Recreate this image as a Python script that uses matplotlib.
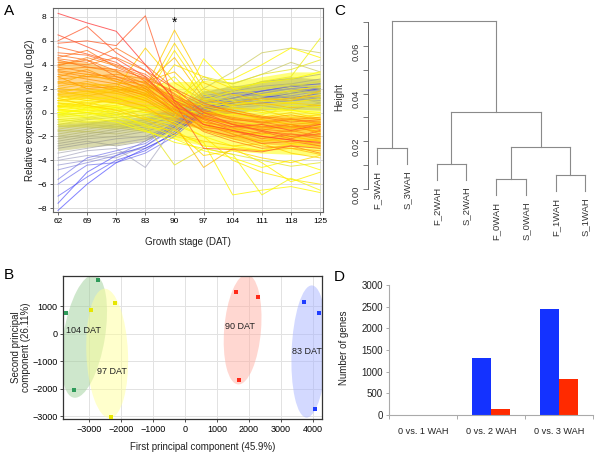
import numpy as np
import matplotlib.pyplot as plt
from matplotlib.colors import LinearSegmentedColormap, Normalize
from matplotlib.patches import Ellipse

plt.rcParams['font.family'] = ['Liberation Sans', 'DejaVu Sans']

# ---- A: expression profiles (Log2) ----
dat = [62, 69, 76, 83, 90, 97, 104, 111, 118, 125]

expr_red = [
    [8.3, 7.5, 6.8, 4.0, 1.0, -1.0, -1.5, -2.0, -2.3, -2.5],
    [5.8, 6.0, 5.6, 8.1, 0.8, -3.0, -3.1, -3.3, -2.8, -3.0],
    [6.0, 7.2, 5.0, 3.5, 2.0, 0.0, -1.0, -1.5, -2.0, -1.8],
    [6.5, 5.5, 4.5, 3.0, 0.5, -0.5, -1.2, -1.0, -1.5, -1.0],
]
expr_orange = [
    [5.0, 4.8, 4.0, 3.2, 1.5, -0.3, -0.8, -1.2, -1.0, -1.4],
    [4.6, 5.2, 3.8, 2.8, 0.8, -0.6, -1.5, -2.2, -1.8, -2.0],
    [4.2, 4.0, 4.6, 3.5, 1.2, 0.2, -0.5, -0.9, -0.6, -0.8],
    [4.8, 4.4, 3.0, 2.2, 0.3, -1.0, -1.8, -2.6, -2.4, -2.8],
    [5.5, 4.9, 4.2, 2.6, 0.6, -1.4, -2.0, -1.6, -2.2, -1.5],
    [4.0, 4.4, 3.5, 2.0, 0.0, -1.6, -2.4, -3.0, -2.8, -3.4],
    [3.5, 3.2, 3.0, 2.5, 1.0, 0.0, -0.4, -0.8, -0.5, -1.0],
    [3.0, 3.6, 2.6, 2.0, 0.6, -0.4, -1.0, -1.3, -1.2, -1.6],
    [3.2, 2.8, 2.4, 1.6, 0.2, -0.8, -1.3, -1.8, -1.5, -2.0],
    [2.8, 3.0, 2.8, 2.2, 1.4, 0.4, 0.0, -0.5, -0.2, -0.6],
    [2.5, 2.2, 2.0, 1.5, 0.4, -0.6, -0.9, -1.2, -1.4, -1.2],
    [3.8, 3.4, 2.8, 1.8, 0.0, -1.2, -1.6, -2.0, -2.3, -2.6],
    [2.2, 2.6, 2.0, 1.2, -0.2, -1.0, -1.5, -1.0, -1.3, -0.9],
    [3.4, 3.0, 3.2, 2.8, 1.8, 0.6, 0.2, -0.3, -0.6, -0.4],
    [2.6, 2.4, 1.8, 1.0, -0.4, -1.5, -2.2, -2.8, -3.0, -3.2],
    [3.0, 2.0, 2.2, 1.4, 0.0, -0.4, -1.0, -1.5, -1.0, -1.8],
    [2.4, 3.2, 2.6, 1.8, 0.8, 0.1, -0.6, -0.6, -1.0, -0.8],
    [3.6, 3.8, 3.4, 2.4, 0.8, -0.8, -1.2, -1.4, -1.6, -1.2],
    [2.0, 1.8, 1.2, 0.5, -1.0, -4.6, -3.0, -3.2, -3.0, -3.5],
    [4.4, 3.8, 3.6, 2.9, 1.0, -0.2, -1.0, -1.6, -1.8, -2.2],
    [3.9, 4.6, 3.9, 3.0, 1.6, 0.0, -0.6, -0.8, -1.2, -1.0],
    [2.0, 2.4, 2.2, 1.6, 0.4, -0.8, -1.8, -2.4, -2.0, -2.4],
    [1.8, 2.0, 1.6, 1.0, 0.0, -1.2, -1.4, -2.0, -2.6, -2.2],
    [4.5, 4.2, 5.4, 4.0, 2.0, 0.8, 0.0, -0.4, -0.8, -0.6],
]
expr_yellow = [
    [1.5, 1.8, 1.6, 2.0, 6.9, 2.5, 1.5, 1.0, 1.2, 1.4],
    [1.0, 1.2, 0.8, 1.5, 5.8, 2.0, 1.0, 0.6, 0.8, 0.6],
    [0.5, 0.8, 1.0, 1.2, 5.2, 1.6, 0.4, 0.0, 0.2, -0.2],
    [1.8, 1.4, 1.8, 2.4, 4.6, 1.2, 0.6, 0.8, 0.4, 0.6],
    [0.8, 0.4, 0.6, 1.0, 4.0, 3.0, 2.0, 1.5, 1.8, 2.2],
    [1.2, 1.6, 2.0, 5.4, 2.5, 1.0, 0.2, -0.4, 0.0, -0.5],
    [0.6, 0.2, 0.0, -0.5, -1.0, -2.0, -4.0, -5.0, -5.6, -6.0],
    [0.2, 0.5, -0.2, -1.0, -2.0, -2.5, -6.9, -6.5, -6.2, -6.7],
    [-0.2, 0.0, -0.5, -1.5, -2.5, -3.0, -3.5, -6.9, -5.5, -6.5],
    [0.4, 0.6, 0.0, -1.2, -1.5, -2.8, -3.0, -4.2, -5.8, -5.0],
    [0.0, -0.4, -0.8, -1.6, -2.2, -3.2, -3.8, -4.6, -4.0, -4.8],
    [1.0, 0.8, 0.4, -0.4, -1.4, -3.6, -3.2, -3.8, -4.2, -3.6],
    [-0.4, -0.2, 0.2, 0.4, 0.6, 1.0, 1.8, 2.6, 3.0, 6.2],
    [0.2, 0.0, -0.2, 0.2, 0.8, 2.6, 2.8, 4.0, 5.4, 4.6],
    [-0.6, -0.4, 0.0, 0.6, 1.0, 3.0, 2.4, 3.2, 3.6, 4.4],
    [0.0, 0.2, 0.4, 0.0, -0.4, 4.5, 2.0, 2.5, 2.8, 3.4],
    [0.0, 0.3, 0.5, 0.4, 0.2, 0.0, -0.2, 0.4, 0.2, 0.0],
    [0.5, 0.6, 0.2, 0.0, 0.4, 0.8, 0.6, 1.0, 0.8, 1.2],
    [-0.3, 0.0, 0.4, 0.6, 0.0, -0.5, -0.8, -1.0, -0.6, -1.2],
    [1.0, 1.4, 1.0, 0.6, 0.2, -0.2, 0.4, 0.2, -0.4, -0.2],
    [0.8, 0.6, 1.2, 1.4, 1.0, 0.6, 0.0, -0.6, -1.0, -1.6],
    [-0.8, -0.5, -0.2, 0.2, 0.8, 1.2, 1.0, 1.4, 1.8, 1.6],
    [1.4, 1.0, 0.8, 0.2, -0.6, -1.4, -2.0, -2.4, -2.2, -2.8],
    [0.3, 0.0, -0.4, -0.2, -0.8, -2.0, -2.8, -3.2, -2.6, -3.0],
    [-0.6, -0.8, -0.6, -1.0, -4.4, -3.0, -3.5, -4.0, -4.5, -4.2],
    [1.6, 2.2, 2.4, 2.6, 3.4, 1.0, 0.8, 1.2, 1.0, 1.8],
    [-1.0, -0.6, -0.4, -0.2, 0.4, 1.6, 2.2, 2.0, 2.4, 2.0],
    [0.6, 1.0, 1.4, 0.8, 2.0, -1.0, -1.6, -1.8, -2.0, -2.4],
    [-0.2, 0.4, 0.8, 1.6, 3.0, 0.4, -0.4, -0.2, 0.6, 0.4],
    [1.2, 0.6, 0.2, -0.6, -1.8, -2.4, -2.8, -2.6, -3.4, -3.8],
]
expr_gray = [
    [-1.2, -1.0, -0.6, -0.2, 0.0, 0.8, 1.0, 1.4, 1.6, 1.8],
    [-1.8, -1.4, -1.0, -0.6, -0.2, 0.6, 0.8, 1.2, 1.0, 1.4],
    [-2.2, -1.8, -1.4, -1.0, -0.4, 1.0, 1.2, 1.6, 2.0, 1.6],
    [-2.6, -2.2, -2.0, -1.6, -0.8, 0.4, 0.6, 0.8, 1.2, 1.0],
    [-1.5, -1.6, -1.2, -1.0, -0.5, 2.8, 2.4, 3.2, 4.2, 3.4],
    [-2.8, -2.4, -2.8, -2.4, -1.2, 1.4, 1.8, 2.2, 2.4, 2.8],
    [-1.0, -0.8, -1.0, -0.8, -0.2, 1.8, 1.4, 2.0, 2.2, 2.6],
    [-2.0, -1.6, -1.8, -1.4, -0.6, 0.2, 0.4, 0.6, 0.2, 0.8],
    [-3.0, -2.6, -2.2, -2.0, -1.0, 0.8, 1.0, 1.2, 1.4, 1.2],
    [-1.4, -1.0, -1.2, -0.6, 0.2, 2.0, 3.4, 5.0, 5.4, 5.0],
    [-2.4, -2.0, -1.6, -1.2, -0.2, 1.2, 1.8, 2.6, 2.8, 3.2],
    [-1.6, -1.2, -1.4, -0.8, 0.0, 0.2, 0.6, 1.0, 1.4, 0.8],
]
expr_blue = [
    [-3.4, -3.0, -2.6, -2.2, -1.2, 0.4, 1.0, 1.2, 1.8, 2.0],
    [-4.0, -3.6, -3.8, -2.8, -1.4, 0.6, 1.4, 1.8, 2.0, 2.2],
    [-3.8, -3.2, -3.0, -4.6, -1.2, 1.0, 1.6, 1.4, 1.8, 1.6],
    [-4.4, -4.0, -3.4, -3.0, -1.8, 0.2, 0.8, 1.0, 1.4, 1.8],
    [-8.2, -6.0, -4.2, -3.0, -1.8, 0.2, 0.8, 1.2, 1.6, 2.0],
    [-7.6, -5.0, -3.6, -2.8, -1.2, 0.8, 1.2, 1.8, 2.2, 2.4],
    [-6.0, -4.4, -4.2, -3.4, -2.0, 0.0, 0.6, 0.8, 1.0, 1.2],
    [-5.6, -3.8, -3.2, -2.6, -1.0, 1.2, 1.6, 1.8, 2.2, 2.0],
    [-7.0, -5.4, -4.0, -3.2, -1.6, 0.4, 1.0, 1.4, 1.2, 1.6],
    [-4.8, -4.2, -3.6, -2.4, -0.8, 0.8, 1.2, 1.6, 2.0, 1.8],
]
# envelopes of the dense bundles of profiles (low, high)
band_yellow = ([-1.2, -1.2, -1.3, -1.6, -2.2, -2.8, -3.2, -3.4, -3.5, -3.6],
               [1.6, 1.9, 2.2, 2.3, 2.6, 2.6, 2.6, 3.0, 3.4, 3.4])
band_gray = ([-3.2, -2.9, -2.7, -2.3, -1.5, -0.4, 0.0, 0.2, 0.3, 0.2],
             [-1.0, -0.8, -0.6, -0.3, 0.4, 1.8, 2.2, 2.6, 3.0, 2.8])
band_orange = ([1.4, 1.2, 0.8, 0.1, -0.9, -1.4, -2.2, -2.6, -2.8, -2.9],
               [4.4, 4.2, 3.6, 2.8, 1.4, 0.6, 0.0, -0.3, -0.3, -0.4])

# ---- B: PCA ----
pc_groups = ['104 DAT', '97 DAT', '90 DAT', '83 DAT']
pc1 = [[-3720, -2720, -3470], [-2920, -2200, -2320],
       [1580, 2280, 1680], [3720, 4180, 4060]]
pc2 = [[750, 1950, -2050], [850, 1120, -3020],
       [1500, 1320, -1680], [1150, 750, -2750]]
ell_center = [(-3150, -100), (-2430, -720), (1800, 150), (3880, -650)]
ell_size = [(1300, 4500), (1300, 4700), (1150, 4000), (1100, 4800)]
ell_angle = [-8, 2, -4, -2]
lab_pos = [(-3180, 100), (-2280, -1380), (1720, 250), (3800, -650)]

# ---- C: dendrogram (hclust style merges) ----
leaf_labels = ['F_3WAH', 'S_3WAH', 'F_2WAH', 'S_2WAH',
               'F_0WAH', 'S_0WAH', 'F_1WAH', 'S_1WAH']
merges = [(-5, -6), (-7, -8), (-3, -4), (-1, -2), (1, 2), (3, 5), (4, 6)]
merge_h = [0.0042, 0.0059, 0.0105, 0.0172, 0.0176, 0.0323, 0.0703]

# ---- D: DEG counts ----
comparisons = ['0 vs. 1 WAH', '0 vs. 2 WAH', '0 vs. 3 WAH']
n_blue = [0, 1320, 2440]
n_red = [0, 140, 840]

W, H = 600, 458
fig = plt.figure(figsize=(W / 100, H / 100), dpi=100)


def rect(l, t, r, b):
    return [l / W, 1 - b / H, (r - l) / W, (b - t) / H]


# ================= A =================
ax = fig.add_axes(rect(53, 8, 323, 212))
cmap = LinearSegmentedColormap.from_list('expr', [
    (0.0, '#3030ff'), (0.16, '#6262e6'), (0.25, '#9494bc'),
    (0.34, '#a4a484'), (0.44, '#d6d640'), (0.5, '#ffff00'),
    (0.59, '#ffcc00'), (0.69, '#ff9800'), (0.81, '#ff6a20'), (1.0, '#ff3535')])
norm = Normalize(-8, 8)


def draw_lines(group, alpha):
    for prof in group:
        ax.plot(dat, prof, color=cmap(norm(prof[0])), lw=0.7, alpha=alpha)


draw_lines(expr_blue, 0.6)
draw_lines(expr_gray, 0.7)
ax.fill_between(dat, *band_yellow, color='#ffff20', alpha=0.6, lw=0)
ax.fill_between(dat, *band_gray, color='#b4b45a', alpha=0.5, lw=0)
ax.fill_between(dat, *band_orange, color='#ffa000', alpha=0.45, lw=0)
draw_lines(expr_yellow, 0.8)
draw_lines(expr_orange, 0.75)
draw_lines(expr_red, 0.75)
ax.text(90, 6.9, '*', ha='center', va='bottom', fontsize=10)
ax.set_xlim(60.8, 125.7)
ax.set_ylim(-8.33, 8.75)
ax.set_xticks(dat)
ax.set_yticks(range(-8, 9, 2))
ax.grid(True, color='#dcdcdc', lw=0.7)
ax.set_axisbelow(True)
ax.tick_params(labelsize=6, length=2.5, width=0.6, color='#555555', pad=2)
for s in ax.spines.values():
    s.set_color('#666666')
    s.set_linewidth(0.8)
fig.text(30 / W, 1 - 110 / H, 'Relative expression value (Log2)', rotation=90,
         ha='center', va='center', fontsize=7, color='#222222')
fig.text(188 / W, 1 - 242 / H, 'Growth stage (DAT)', ha='center', va='center',
         fontsize=7, color='#222222')

# ================= B =================
ax = fig.add_axes(rect(63, 276, 322, 419))
pt_col = ['#2e9b5a', '#e6e600', '#ff2a1a', '#1f3dff']
el_col = ['#9fd09a', '#ffff9a', '#ffb0a4', '#a8b4ff']
for i in range(4):
    e = Ellipse(ell_center[i], ell_size[i][0], ell_size[i][1], angle=ell_angle[i],
                facecolor=el_col[i], edgecolor='none', alpha=0.5, zorder=1)
    ax.add_patch(e)
for i in range(4):
    ax.scatter(pc1[i], pc2[i], marker='s', s=5, color=pt_col[i], zorder=3, lw=0)
    ax.text(lab_pos[i][0], lab_pos[i][1], pc_groups[i], ha='center', va='center',
            fontsize=6.5, color='#222222', zorder=4)
ax.set_xlim(-3810, 4280)
ax.set_ylim(-3100, 2090)
ax.set_xticks(range(-3000, 4001, 1000))
ax.set_yticks(range(-3000, 1001, 1000))
ax.grid(True, color='#e2e2e2', lw=0.7)
ax.set_axisbelow(True)
ax.tick_params(labelsize=6.5, length=2, width=0.6, color='#333333', pad=2)
for s in ax.spines.values():
    s.set_color('#333333')
    s.set_linewidth(0.9)
fig.text(21 / W, 1 - 347 / H, 'Second principal\ncomponent (26.11%)', rotation=90,
         ha='center', va='center', fontsize=7, color='#222222', linespacing=1.1)
fig.text(203 / W, 1 - 447 / H, 'First principal component (45.9%)',
         ha='center', va='center', fontsize=7, color='#222222')

# ================= C =================
ax = fig.add_axes(rect(368, 17.3, 596, 217.6))
hang = 0.1 * (max(merge_h) - min(merge_h))
node_x, node_h = {}, {}
leaf_bottom = {}
for k, (a, b) in enumerate(merges, start=1):
    h = merge_h[k - 1]
    xs = []
    for c in (a, b):
        if c < 0:
            x = -c
            y0 = h - hang
            leaf_bottom[x] = y0
        else:
            x = node_x[c]
            y0 = node_h[c]
        ax.plot([x, x], [y0, h], color='#8a8a8a', lw=0.8)
        xs.append(x)
    ax.plot(xs, [h, h], color='#8a8a8a', lw=0.8)
    node_x[k] = sum(xs) / 2
    node_h[k] = h
for i, lab in enumerate(leaf_labels, start=1):
    ax.annotate(lab, (i, leaf_bottom[i]), xytext=(0, -5), textcoords='offset points',
                rotation=90, ha='center', va='top', fontsize=6.8, color='#333333',
                annotation_clip=False)
ax.set_xlim(0.697, 8.36)
ax.set_ylim(-0.012, 0.072)
for s in ['top', 'right', 'bottom']:
    ax.spines[s].set_visible(False)
ax.spines['left'].set_bounds(0, 0.07)
ax.spines['left'].set_color('#666666')
ax.spines['left'].set_linewidth(0.7)
ax.set_xticks([])
ax.set_yticks([0, 0.02, 0.04, 0.06])
ax.set_yticks(np.arange(0, 0.071, 0.01), minor=True)
ax.set_yticklabels(['0.00', '0.02', '0.04', '0.06'])
ax.tick_params(axis='y', which='both', length=3.5, width=0.6, color='#666666',
               labelsize=6.8, labelrotation=90, pad=2, labelcolor='#333333')
fig.text(339 / W, 1 - 97 / H, 'Height', rotation=90, ha='center', va='center',
         fontsize=7, color='#333333')

# ================= D =================
ax = fig.add_axes(rect(389, 285, 593, 415))
xc = np.arange(len(comparisons))
bw = 0.28
ax.bar(xc - bw / 2, n_blue, bw, color='#1432ff')
ax.bar(xc + bw / 2, n_red, bw, color='#ff2a00')
ax.set_xlim(-0.5, 2.5)
ax.set_ylim(0, 3000)
ax.set_yticks(range(0, 3001, 500))
ax.set_xticks(xc)
ax.set_xticklabels(comparisons)
ax.set_xticks([-0.5, 0.5, 1.5, 2.5], minor=True)
ax.tick_params(axis='x', which='major', length=0, labelsize=6.6, pad=9,
               labelcolor='#222222')
ax.tick_params(axis='x', which='minor', length=3, width=0.7, color='#aaaaaa')
ax.tick_params(axis='y', length=2.5, width=0.7, color='#aaaaaa', labelsize=7,
               pad=2, labelcolor='#222222')
for s in ['top', 'right']:
    ax.spines[s].set_visible(False)
for s in ['left', 'bottom']:
    ax.spines[s].set_color('#aaaaaa')
    ax.spines[s].set_linewidth(0.8)
fig.text(344 / W, 1 - 348 / H, 'Number of genes', rotation=90, ha='center',
         va='center', fontsize=7, color='#222222')

# panel letters
for lab, x, y in [('A', 4, 4), ('B', 4, 268), ('C', 334, 4), ('D', 334, 270)]:
    fig.text(x / W, 1 - y / H, lab, ha='left', va='top', fontsize=11)

fig.savefig('out.png', dpi=100)
